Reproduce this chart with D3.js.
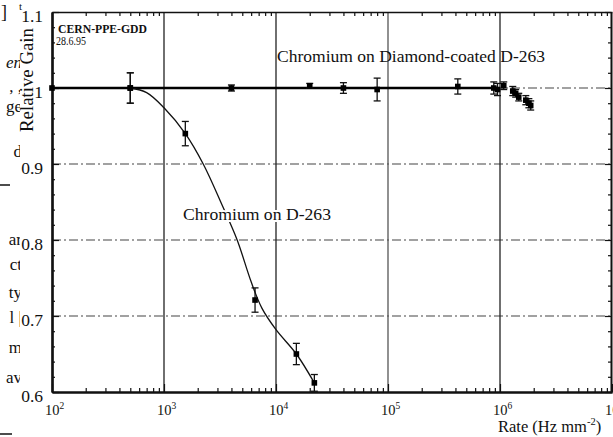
<!DOCTYPE html>
<html><head><meta charset="utf-8">
<script src="https://cdn.jsdelivr.net/npm/d3@7"></script>
<style>
body{margin:0;background:#fff;}
svg{display:block;}
text{font-family:"Liberation Serif","Times New Roman",serif;fill:#111;}
</style></head>
<body><svg id="c" width="613" height="437"></svg>
<script>
// ---- data ----
const xTickValues = [1e2, 1e3, 1e4, 1e5, 1e6, 1e7];
const xTickExp = ["2", "3", "4", "5", "6", "7"];
const yTickValues = [0.6, 0.7, 0.8, 0.9, 1.0, 1.1];
const yTickLabels = ["0.6", "0.7", "0.8", "0.9", "1", "1.1"];

// Chromium on Diamond-coated D-263
const diaRate = [100, 500, 4000, 20000, 40000, 80000, 420000, 880000, 950000, 1080000, 1300000, 1380000, 1470000, 1700000, 1810000, 1880000];
const diaGain = [1.0, 1.0, 1.0, 1.003, 1.0, 0.998, 1.002, 1.0, 0.998, 1.003, 0.996, 0.993, 0.988, 0.984, 0.98, 0.977];
const diaErr  = [0, 0.02, 0.004, 0.003, 0.007, 0.015, 0.01, 0.008, 0.008, 0.005, 0.006, 0.005, 0.005, 0.006, 0.006, 0.006];
const diaFitRate = [100, 950000];
const diaFitGain = [1.0, 1.0];

// Chromium on D-263
const crRate = [500, 1550, 6500, 15200, 22000];
const crGain = [1.0, 0.94, 0.721, 0.65, 0.612];
const crErr  = [0.02, 0.016, 0.016, 0.014, 0.011];
const crFitRate = [500, 700, 1000, 1550, 2240, 3300, 4500, 6000, 7500, 10000, 15200, 22000];
const crFitGain = [1.0, 0.994, 0.974, 0.94, 0.9, 0.846, 0.8, 0.745, 0.71, 0.682, 0.65, 0.612];

// page-text fragments cut off at the left edge of the scan
const fragText = ["en", ", ,", "ge", "d", "ar", "ct", "ty", "l |", "m", "av"];
const fragY    = [68, 92, 112, 157, 245, 270, 298, 323, 353, 383];

// ---- drawing ----
const svg = d3.select("#c");
const L = 52, R = 611, T = 12, B = 392;
const x = d3.scaleLog().domain([1e2, 1e7]).range([L, 612]);
const y = d3.scaleLinear().domain([0.6, 1.1]).range([B, T]);

const xMinor = [];
for (let d = 1e2; d < 1e7; d *= 10) for (let k = 2; k <= 9; k++) xMinor.push(d * k);
const yMinor = d3.range(0.62, 1.1, 0.02).filter(v => Math.abs(v * 10 - Math.round(v * 10)) > 0.01);

// grid
const grid = svg.append("g");
grid.selectAll("line.h").data([0.7, 0.8, 0.9, 1.0]).join("line")
  .attr("x1", L).attr("x2", R).attr("y1", d => y(d)).attr("y2", d => y(d))
  .attr("stroke", "#444").attr("stroke-width", 1.1).attr("stroke-dasharray", "9,3,2,3");
grid.selectAll("line.v").data([1e3, 1e4, 1e5, 1e6]).join("line")
  .attr("x1", d => x(d)).attr("x2", d => x(d)).attr("y1", T).attr("y2", B)
  .attr("stroke", (d, i) => i === 2 ? "#555" : "#222").attr("stroke-width", 1.3);

// axes
function styleAxis(g, w) {
  g.select(".domain").attr("stroke", "#111").attr("stroke-width", w);
  g.selectAll(".tick line").attr("stroke", "#111").attr("stroke-width", 1.2);
  g.selectAll(".tick text").remove();
}
svg.append("g").attr("transform", `translate(0,${B})`)
  .call(d3.axisBottom(x).tickValues(xMinor).tickSize(-4).tickSizeOuter(0)).call(g => styleAxis(g, 2.2));
svg.append("g").attr("transform", `translate(0,${B})`)
  .call(d3.axisBottom(x).tickValues(xTickValues).tickSize(-8).tickSizeOuter(0)).call(g => styleAxis(g, 2.2));
svg.append("g").attr("transform", `translate(0,${T})`)
  .call(d3.axisTop(x).tickValues(xMinor).tickSize(-4).tickSizeOuter(0)).call(g => styleAxis(g, 1.6));
svg.append("g").attr("transform", `translate(${L},0)`)
  .call(d3.axisLeft(y).tickValues(yMinor).tickSize(-3).tickSizeOuter(0)).call(g => styleAxis(g, 2.2));
svg.append("g").attr("transform", `translate(${L},0)`)
  .call(d3.axisLeft(y).tickValues(yTickValues).tickSize(-7).tickSizeOuter(0)).call(g => styleAxis(g, 2.2));
svg.append("g").attr("transform", `translate(${R},0)`)
  .call(d3.axisRight(y).tickValues(yMinor).tickSize(-3).tickSizeOuter(0)).call(g => styleAxis(g, 1.6));
svg.append("g").attr("transform", `translate(${R},0)`)
  .call(d3.axisRight(y).tickValues(yTickValues).tickSize(-6).tickSizeOuter(0)).call(g => styleAxis(g, 1.6));

// tick labels
svg.append("g").selectAll("text").data(yTickValues).join("text")
  .attr("x", 43).attr("y", d => y(d) + 10).attr("text-anchor", "end")
  .attr("font-size", 17.5).text((d, i) => yTickLabels[i]);
const xl = svg.append("g").selectAll("text").data(xTickValues).join("text")
  .attr("x", d => x(d) - 7).attr("y", 415).attr("font-size", 14.5);
xl.append("tspan").text("10");
xl.append("tspan").attr("font-size", 9.5).attr("dy", -6).text((d, i) => xTickExp[i]);

// axis titles
svg.append("text").attr("transform", "translate(33,132) rotate(-90)")
  .attr("font-size", 18).attr("textLength", 104).attr("lengthAdjust", "spacingAndGlyphs").text("Relative Gain");
const rt = svg.append("text").attr("x", 498).attr("y", 432).attr("font-size", 16.5);
rt.append("tspan").text("Rate (Hz mm");
rt.append("tspan").attr("font-size", 10.5).attr("dy", -7).text("-2");
rt.append("tspan").attr("dy", 7).text(")");

svg.append("text").attr("x", 58).attr("y", 33).attr("font-size", 12).attr("font-weight", "bold")
  .attr("textLength", 89).attr("lengthAdjust", "spacingAndGlyphs").text("CERN-PPE-GDD");
svg.append("text").attr("x", 56).attr("y", 45).attr("font-size", 11.5)
  .attr("textLength", 30).attr("lengthAdjust", "spacingAndGlyphs").text("28.6.95");

// fits
const line = d3.line().x(d => x(d[0])).y(d => y(d[1]));
svg.append("path").datum(diaFitRate.map((r, i) => [r, diaFitGain[i]]))
  .attr("d", line).attr("fill", "none").attr("stroke", "#000").attr("stroke-width", 2.6);
svg.append("path").datum(crFitRate.map((r, i) => [r, crFitGain[i]]))
  .attr("d", line.curve(d3.curveCatmullRom.alpha(0.5))).attr("fill", "none").attr("stroke", "#111").attr("stroke-width", 1.3);

// points with error bars
function drawPoints(rate, gain, err) {
  const g = svg.append("g");
  const pts = rate.map((r, i) => ({ r, v: gain[i], e: err[i] }));
  const eb = pts.filter(p => p.e > 0);
  g.selectAll("line.e").data(eb).join("line")
    .attr("x1", p => x(p.r)).attr("x2", p => x(p.r)).attr("y1", p => y(p.v - p.e)).attr("y2", p => y(p.v + p.e))
    .attr("stroke", "#111").attr("stroke-width", 1.3);
  [-1, 1].forEach(s => {
    g.append("g").selectAll("line").data(eb).join("line")
      .attr("x1", p => x(p.r) - 3.5).attr("x2", p => x(p.r) + 3.5)
      .attr("y1", p => y(p.v + s * p.e)).attr("y2", p => y(p.v + s * p.e))
      .attr("stroke", "#111").attr("stroke-width", 1.3);
  });
  g.append("g").selectAll("rect").data(pts).join("rect")
    .attr("x", p => x(p.r) - 2.8).attr("y", p => y(p.v) - 2.8).attr("width", 5.6).attr("height", 5.6).attr("fill", "#000");
}
drawPoints(diaRate, diaGain, diaErr);
drawPoints(crRate, crGain, crErr);

// series labels
svg.append("text").attr("x", 277).attr("y", 62).attr("font-size", 17.5)
  .attr("textLength", 268).attr("lengthAdjust", "spacingAndGlyphs").text("Chromium on Diamond-coated D-263");
svg.append("text").attr("x", 183).attr("y", 220).attr("font-size", 17.5)
  .attr("stroke", "#fff").attr("stroke-width", 4).attr("paint-order", "stroke")
  .attr("textLength", 148).attr("lengthAdjust", "spacingAndGlyphs").text("Chromium on D-263");

// left-edge page fragments (clipped)
svg.append("clipPath").attr("id", "lc").append("rect").attr("x", 0).attr("y", 0).attr("width", 20).attr("height", 437);
const fr = svg.append("g").attr("clip-path", "url(#lc)");
fr.selectAll("text").data(fragText).join("text")
  .attr("x", 22).attr("y", (d, i) => fragY[i]).attr("text-anchor", "end").attr("font-size", 17)
  .attr("font-style", (d, i) => i === 0 ? "italic" : "normal").text(d => d);
fr.append("text").attr("x", 1).attr("y", 18).attr("font-size", 18).text("]");
svg.append("text").attr("x", 19).attr("y", 10).attr("font-size", 11).text("t");
fr.append("line").attr("x1", 0).attr("x2", 10).attr("y1", 185).attr("y2", 185).attr("stroke", "#111").attr("stroke-width", 1.5);
fr.append("line").attr("x1", 0).attr("x2", 12).attr("y1", 434).attr("y2", 434).attr("stroke", "#111").attr("stroke-width", 1.5);
</script></body></html>
